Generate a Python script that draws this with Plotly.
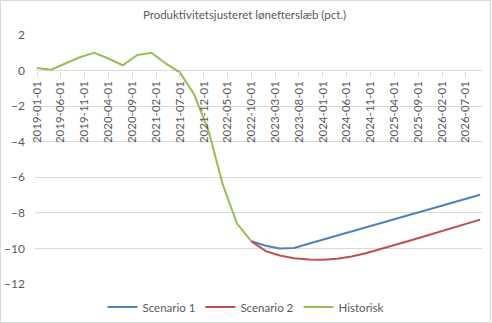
import plotly.graph_objects as go

hist_dates = ["2019-01-01", "2019-04-01", "2019-07-01", "2019-10-01", "2020-01-01", "2020-04-01",
              "2020-07-01", "2020-10-01", "2021-01-01", "2021-04-01", "2021-07-01", "2021-10-01",
              "2022-01-01", "2022-04-01", "2022-07-01", "2022-10-01"]
historisk = [0.15, 0.05, 0.4, 0.75, 1.0, 0.68, 0.3, 0.87, 1.0, 0.4, -0.1, -1.35,
             -3.4, -6.4, -8.6, -9.6]

scen_dates = ["2022-10-01", "2023-01-01", "2023-04-01", "2023-07-01", "2023-10-01", "2024-01-01",
              "2024-04-01", "2024-07-01", "2024-10-01", "2025-01-01", "2025-04-01", "2025-07-01",
              "2025-10-01", "2026-01-01", "2026-04-01", "2026-07-01", "2026-10-01"]
scenario1 = [-9.6, -9.85, -10.0, -9.97, -9.74, -9.51, -9.28, -9.05, -8.82, -8.6, -8.37,
             -8.14, -7.91, -7.68, -7.45, -7.22, -6.98]
scenario2 = [-9.6, -10.15, -10.4, -10.55, -10.62, -10.63, -10.58, -10.45, -10.27, -10.05,
             -9.82, -9.58, -9.34, -9.1, -8.86, -8.62, -8.38]

tick_labels = ["2019-01-01", "2019-06-01", "2019-11-01", "2020-04-01", "2020-09-01", "2021-02-01",
               "2021-07-01", "2021-12-01", "2022-05-01", "2022-10-01", "2023-03-01", "2023-08-01",
               "2024-01-01", "2024-06-01", "2024-11-01", "2025-04-01", "2025-09-01", "2026-02-01",
               "2026-07-01"]

title_text = "Produktivitetsjusteret lønefterslæb (pct.)"

FONT = "Lato"
GRAY = "#595959"
GRID = "#d9d9d9"

fig = go.Figure()
fig.add_trace(go.Scatter(x=scen_dates, y=scenario1, mode="lines", name="Scenario 1",
                         line=dict(color="#4F81BD", width=2)))
fig.add_trace(go.Scatter(x=scen_dates, y=scenario2, mode="lines", name="Scenario 2",
                         line=dict(color="#C0504D", width=2)))
fig.add_trace(go.Scatter(x=hist_dates, y=historisk, mode="lines", name="Historisk",
                         line=dict(color="#9BBB59", width=2)))

L, R, T, B = 35, 10, 35, 39
W, H = 492, 323
pw = W - L - R
ph = H - T - B

fig.update_layout(
    width=W, height=H,
    margin=dict(l=L, r=R, t=T, b=B, autoexpand=False),
    paper_bgcolor="white", plot_bgcolor="white",
    font=dict(family=FONT, size=11, color=GRAY),
    title=dict(text=title_text, x=0.497, xref="container", xanchor="center",
               y=1 - 15 / H, yref="container", yanchor="middle",
               font=dict(family=FONT, size=11.5, color=GRAY)),
    showlegend=True,
    legend=dict(orientation="h", x=0.5, xanchor="center", xref="container",
                y=1 - 307 / H, yref="container", yanchor="middle",
                font=dict(family=FONT, size=11.5, color=GRAY),
                traceorder="normal", itemwidth=30),
    xaxis=dict(type="date", range=["2018-12-19", "2026-10-13"],
               tickvals=tick_labels, ticktext=tick_labels, tickangle=-90,
               anchor="free", position=12 / 14, showgrid=False, zeroline=False,
               showline=False, ticks="outside", ticklen=5, tickcolor=GRID,
               automargin=False,
               tickfont=dict(family=FONT, size=11.5, color=GRAY)),
    yaxis=dict(range=[-12, 2], dtick=2, showgrid=True, gridcolor=GRID, gridwidth=1,
               zeroline=False, showline=False, ticks="", automargin=False,
               ticklabelstandoff=9,
               tickfont=dict(family=FONT, size=12, color=GRAY)),
    shapes=[dict(type="rect", xref="paper", yref="paper",
                 x0=(0.5 - L) / pw, x1=(W - 1.5 - L) / pw,
                 y0=-(B - 0.5) / ph, y1=(H - B - 0.5) / ph,
                 line=dict(color=GRID, width=1), layer="below")],
)

fig.write_html("out.html")
